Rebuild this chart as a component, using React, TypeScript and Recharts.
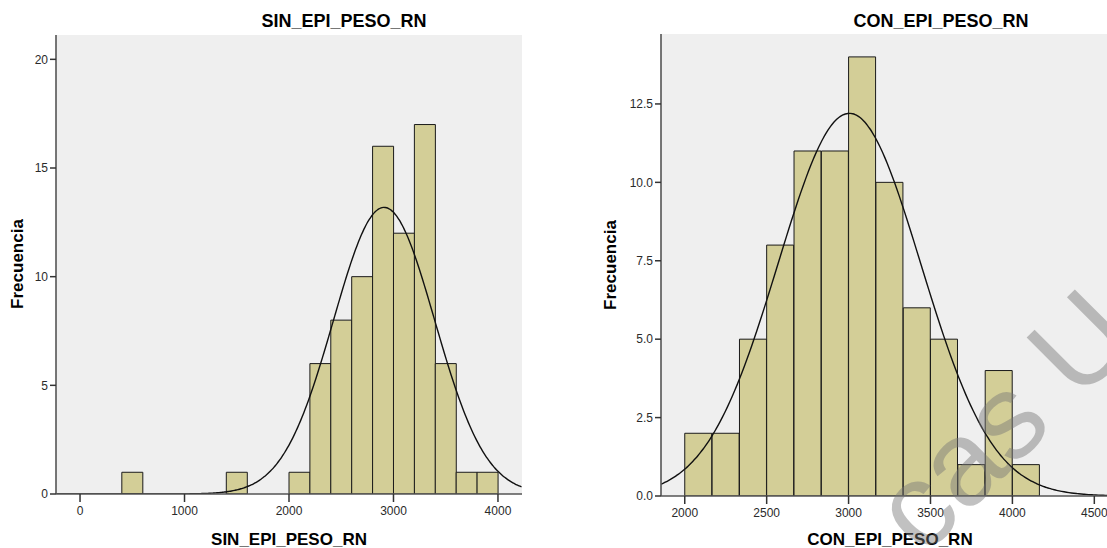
import React from 'react';
import { ComposedChart, Bar, Line, XAxis, YAxis, CartesianGrid } from 'recharts';

// Histograma SIN_EPI_PESO_RN: marcas de clase (g) y frecuencias
const sinMarcas = [500, 1500, 2100, 2300, 2500, 2700, 2900, 3100, 3300, 3500, 3700, 3900];
const sinFrecuencias = [1, 1, 1, 6, 8, 10, 16, 12, 17, 6, 1, 1];
const sinAnchoIntervalo = 200;
const sinMedia = 2910;
const sinDesviacion = 484;
const sinTicksX = [0, 1000, 2000, 3000, 4000];
const sinTicksY = [0, 5, 10, 15, 20];

// Histograma CON_EPI_PESO_RN
const conMarcas = [2083, 2250, 2417, 2583, 2750, 2917, 3083, 3250, 3417, 3583, 3750, 3917, 4083];
const conFrecuencias = [2, 2, 5, 8, 11, 11, 14, 10, 6, 5, 1, 4, 1];
const conAnchoIntervalo = 166.67;
const conMedia = 3005;
const conDesviacion = 436;
const conTicksX = [2000, 2500, 3000, 3500, 4000, 4500];
const conTicksY = [0, 2.5, 5, 7.5, 10, 12.5];

const FUENTE = '"Liberation Sans", Arial, sans-serif';
const BORDE = '#555';

// Curva normal ajustada (media, desviación típica y N del histograma)
function curvaNormal(
  dominio: [number, number],
  media: number,
  desviacion: number,
  n: number,
  ancho: number
) {
  const puntos: { x: number; normal: number }[] = [];
  const k = (n * ancho) / (desviacion * Math.sqrt(2 * Math.PI));
  for (let x = dominio[0]; x <= dominio[1]; x += 15) {
    const z = (x - media) / desviacion;
    puntos.push({ x, normal: k * Math.exp(-0.5 * z * z) });
  }
  return puntos;
}

type HistProps = {
  marcas: number[];
  frecuencias: number[];
  ancho: number;
  media: number;
  desviacion: number;
  dominioX: [number, number];
  ticksX: number[];
  dominioY: [number, number];
  ticksY: number[];
  formatoY?: (v: number) => string;
  width: number;
  height: number;
  margin: { top: number; right: number; bottom: number; left: number };
  anchoEjeY: number;
};

function Histograma(p: HistProps) {
  const barras = p.marcas.map((x, i) => ({ x, frecuencia: p.frecuencias[i] }));
  const n = p.frecuencias.reduce((a, b) => a + b, 0);
  const curva = curvaNormal(p.dominioX, p.media, p.desviacion, n, p.ancho);
  const ejeLinea = { stroke: BORDE, strokeWidth: 1.6 };
  const marcaTick = { stroke: '#333', strokeWidth: 1.5 };
  return (
    <ComposedChart
      width={p.width}
      height={p.height}
      data={barras}
      margin={p.margin}
      barCategoryGap={0}
      barGap={0}
      style={{ fontFamily: FUENTE }}
    >
      <CartesianGrid fill="#efefef" horizontal={false} vertical={false} />
      <XAxis
        dataKey="x"
        type="number"
        domain={p.dominioX}
        ticks={p.ticksX}
        interval={0}
        allowDataOverflow
        height={30}
        tickSize={8}
        tickMargin={4}
        tick={{ fontSize: 12, fill: '#2a2a2a', fontFamily: FUENTE }}
        axisLine={ejeLinea}
        tickLine={marcaTick}
      />
      <XAxis
        xAxisId="curva"
        dataKey="x"
        type="number"
        orientation="top"
        domain={p.dominioX}
        allowDataOverflow
        height={0}
        tick={false}
        tickLine={false}
        axisLine={ejeLinea}
      />
      <YAxis
        type="number"
        domain={p.dominioY}
        ticks={p.ticksY}
        interval={0}
        allowDataOverflow
        width={p.anchoEjeY}
        tickSize={6}
        tickMargin={2}
        tickFormatter={p.formatoY}
        tick={{ fontSize: 12, fill: '#2a2a2a', fontFamily: FUENTE }}
        axisLine={ejeLinea}
        tickLine={marcaTick}
      />
      <YAxis
        yAxisId="borde"
        orientation="right"
        type="number"
        domain={p.dominioY}
        allowDataOverflow
        width={0}
        tick={false}
        tickLine={false}
        axisLine={ejeLinea}
      />
      <Bar
        dataKey="frecuencia"
        fill="#d3ce97"
        stroke="#1a1a1a"
        strokeWidth={1}
        isAnimationActive={false}
      />
      <Line
        data={curva}
        xAxisId="curva"
        dataKey="normal"
        type="monotone"
        stroke="#111"
        strokeWidth={1.4}
        dot={false}
        activeDot={false}
        isAnimationActive={false}
      />
    </ComposedChart>
  );
}

export default function App() {
  return (
    <div
      style={{
        position: 'absolute',
        left: 0,
        top: 0,
        width: 1107,
        height: 548,
        overflow: 'hidden',
        background: '#fff',
      }}
    >
      <div style={{ position: 'absolute', left: 0, top: 0 }}>
        <Histograma
          marcas={sinMarcas}
          frecuencias={sinFrecuencias}
          ancho={sinAnchoIntervalo}
          media={sinMedia}
          desviacion={sinDesviacion}
          dominioX={[-230, 4230]}
          ticksX={sinTicksX}
          dominioY={[0, 21.12]}
          ticksY={sinTicksY}
          width={560}
          height={548}
          margin={{ top: 35, right: 38, bottom: 24, left: 16 }}
          anchoEjeY={40}
        />
      </div>
      <div style={{ position: 'absolute', left: 570, top: 0 }}>
        <Histograma
          marcas={conMarcas}
          frecuencias={conFrecuencias}
          ancho={conAnchoIntervalo}
          media={conMedia}
          desviacion={conDesviacion}
          dominioX={[1855, 4669]}
          ticksX={conTicksX}
          dominioY={[0, 14.73]}
          ticksY={conTicksY}
          formatoY={(v: number) => v.toFixed(1)}
          width={600}
          height={548}
          margin={{ top: 34, right: 48, bottom: 22, left: 41 }}
          anchoEjeY={50}
        />
      </div>
      <svg
        width={1107}
        height={548}
        style={{ position: 'absolute', left: 0, top: 0, pointerEvents: 'none' }}
        fontFamily={FUENTE}
      >
        <text x={344} y={27} textAnchor="middle" fontSize={18} fontWeight="bold" fill="#000">
          SIN_EPI_PESO_RN
        </text>
        <text x={941} y={27} textAnchor="middle" fontSize={18} fontWeight="bold" fill="#000">
          CON_EPI_PESO_RN
        </text>
        <text x={289} y={545} textAnchor="middle" fontSize={17} fontWeight="bold" fill="#000">
          SIN_EPI_PESO_RN
        </text>
        <text x={890} y={545} textAnchor="middle" fontSize={17} fontWeight="bold" fill="#000">
          CON_EPI_PESO_RN
        </text>
        <text
          transform="translate(22.5,264) rotate(-90)"
          textAnchor="middle"
          fontSize={17}
          fontWeight="bold"
          fill="#000"
        >
          Frecuencia
        </text>
        <text
          transform="translate(616,265) rotate(-90)"
          textAnchor="middle"
          fontSize={17}
          fontWeight="bold"
          fill="#000"
        >
          Frecuencia
        </text>
        <text
          transform="translate(923,558) rotate(-45)"
          fontSize={120}
          fill="#777"
          opacity={0.45}
        >
          cas U
        </text>
      </svg>
    </div>
  );
}
